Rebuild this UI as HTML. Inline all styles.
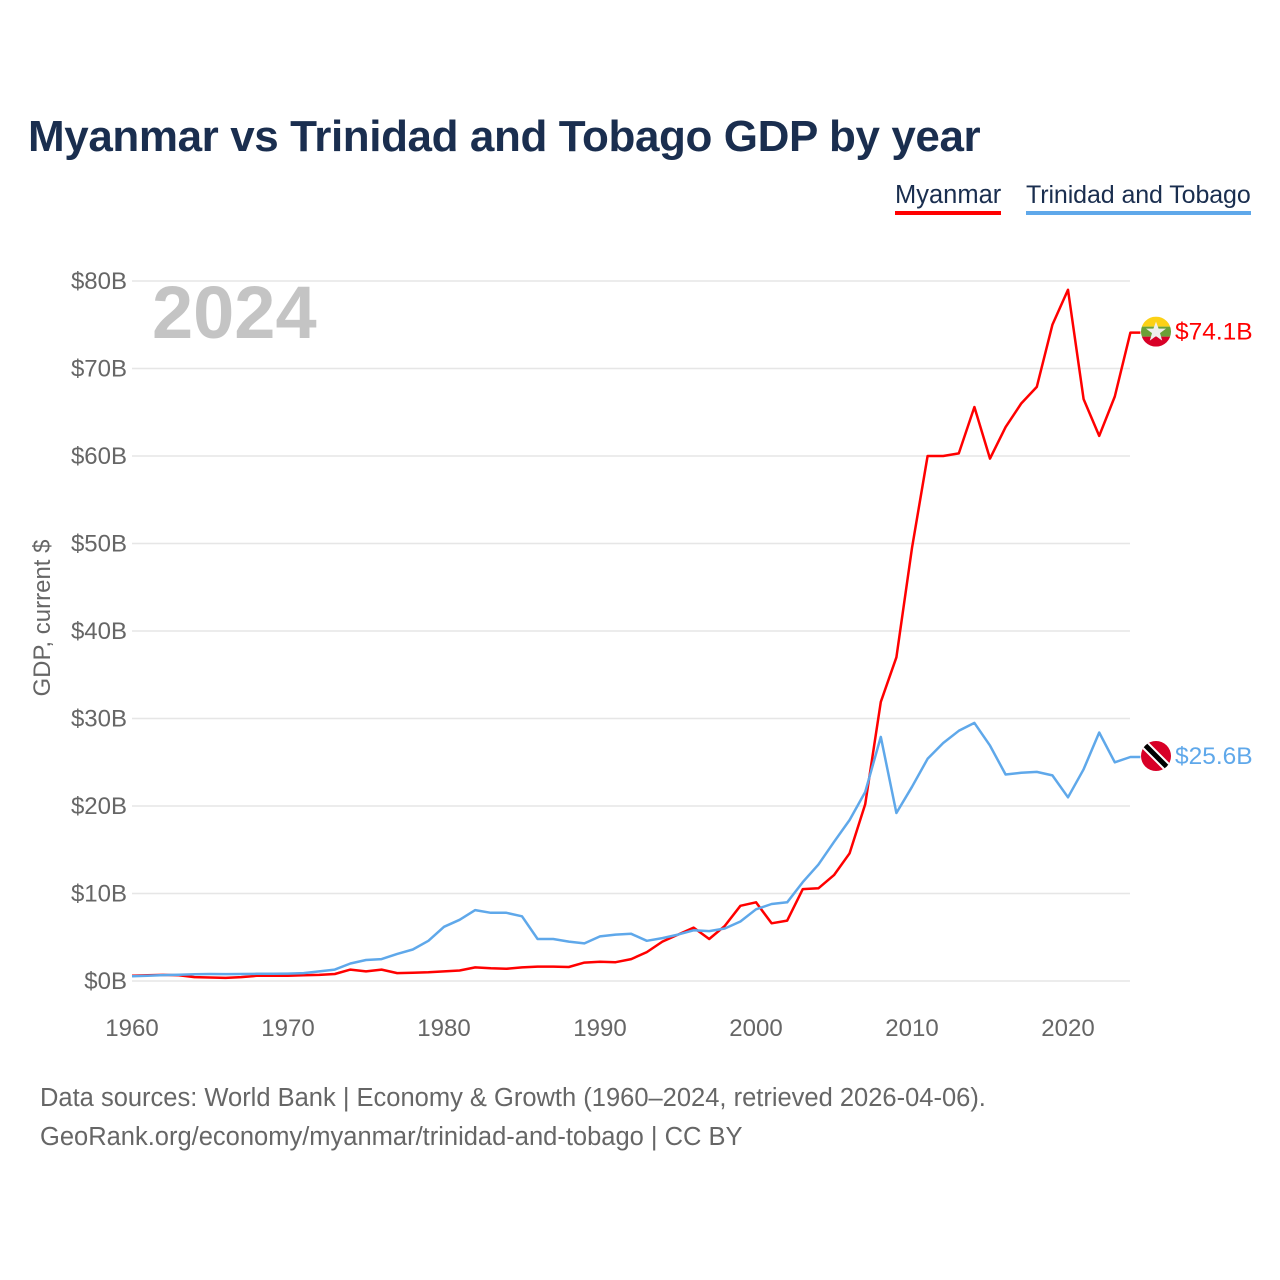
<!DOCTYPE html>
<html><head><meta charset="utf-8"><style>
body{margin:0;background:#fff;font-family:"Liberation Sans",sans-serif;}
#wrap{position:relative;width:1280px;height:1280px;overflow:hidden;}
h1{position:absolute;left:28px;top:112px;margin:0;font-size:44px;font-weight:bold;color:#1a2e4f;letter-spacing:-0.4px}
.leg{position:absolute;top:181px;font-size:25.5px;color:#1a2e4f;padding-bottom:1px}
.src{position:absolute;left:40px;font-size:25.5px;color:#666}
</style></head><body>
<div id="wrap">
<h1>Myanmar vs Trinidad and Tobago GDP by year</h1>
<div class="leg" style="left:895px;border-bottom:4px solid #ff0000">Myanmar</div>
<div class="leg" style="left:1026px;border-bottom:4px solid #5fa8ea;font-size:25px;letter-spacing:-0.1px">Trinidad and Tobago</div>
<svg id="chart" width="1280" height="1280" style="position:absolute;left:0;top:0"></svg>
<div class="src" style="top:1084px">Data sources: World Bank | Economy &amp; Growth (1960–2024, retrieved 2026-04-06).</div>
<div class="src" style="top:1123px">GeoRank.org/economy/myanmar/trinidad-and-tobago | CC BY</div>
</div>
<script>
const years=[];for(let y=1960;y<=2024;y++)years.push(y);
const myanmar=[0.6,0.65,0.7,0.65,0.45,0.4,0.35,0.45,0.6,0.6,0.6,0.65,0.7,0.8,1.3,1.1,1.3,0.9,0.95,1.0,1.1,1.2,1.55,1.45,1.4,1.55,1.65,1.65,1.6,2.1,2.2,2.15,2.5,3.3,4.5,5.3,6.1,4.8,6.3,8.6,9.0,6.6,6.9,10.5,10.6,12.1,14.6,20.2,31.9,37.0,49.5,60.0,60.0,60.3,65.6,59.7,63.3,66.0,67.9,75.0,79.0,66.5,62.3,66.8,74.1];
const trinidad=[0.54,0.6,0.67,0.72,0.78,0.8,0.79,0.8,0.82,0.82,0.85,0.9,1.1,1.3,2.0,2.4,2.5,3.1,3.6,4.6,6.2,7.0,8.1,7.8,7.8,7.4,4.8,4.8,4.5,4.3,5.1,5.3,5.4,4.6,4.9,5.3,5.8,5.7,6.0,6.8,8.2,8.8,9.0,11.3,13.3,15.9,18.4,21.6,27.9,19.2,22.2,25.4,27.2,28.6,29.5,26.9,23.6,23.8,23.9,23.5,21.0,24.2,28.4,25.0,25.6];
const yTicks=[0,10,20,30,40,50,60,70,80];
const xTicks=[1960,1970,1980,1990,2000,2010,2020];
const X=y=>132+(y-1960)*15.6;
const Y=v=>981-v*8.75;
const svg=document.getElementById('chart');const NS='http://www.w3.org/2000/svg';
function mk(t,a,txt){const e=document.createElementNS(NS,t);for(const k in a)e.setAttribute(k,a[k]);if(txt!=null)e.textContent=txt;svg.appendChild(e);return e;}
yTicks.forEach(v=>{
 const g=mk('line',{x1:132,x2:1130,y1:Y(v),y2:Y(v),stroke:'#e6e6e6','stroke-width':1.5});
 
 
 const t=mk('text',{x:127,y:Y(v)+8,'text-anchor':'end','font-size':24,fill:'#666','font-family':'Liberation Sans'},'$'+v+'B');
 
 
});
xTicks.forEach(y=>{
 const t=mk('text',{x:X(y),y:1036,'text-anchor':'middle','font-size':24,fill:'#666','font-family':'Liberation Sans'},String(y));
 
 
});
const yt=mk('text',{x:0,y:0,transform:'translate(50,618) rotate(-90)','text-anchor':'middle','font-size':24,fill:'#666','font-family':'Liberation Sans'},'GDP, current $');


const yr=mk('text',{x:152,y:338,'font-size':74,'font-weight':'bold',fill:'#c4c4c4','font-family':'Liberation Sans'},'2024');


function series(vals,col,name,label){
 let d=vals.map((v,i)=>(i?'L':'M')+X(years[i]).toFixed(1)+','+Y(v).toFixed(1)).join(' ');
 const last=vals[vals.length-1];
 d+=' L'+(X(2024)+10)+','+Y(last).toFixed(1);
 const p=mk('path',{d:d,fill:'none',stroke:col,'stroke-width':2.5,'stroke-linejoin':'round'});
 
 
 const t=mk('text',{x:1175,y:Y(last)+7,'font-size':24.5,fill:col,'font-family':'Liberation Sans'},label);
 
 
 return Y(last);
}
const ym=series(myanmar,'#ff0000','myanmar','$74.1B');
const yt2=series(trinidad,'#5fa8ea','trinidad','$25.6B');
const fm=document.createElementNS(NS,'g');fm.setAttribute('transform','translate(1156,'+(ym-1)+')');


fm.innerHTML='<defs><clipPath id="c1"><circle r="15"/></clipPath></defs><g clip-path="url(#c1)"><rect x="-15" y="-15" width="30" height="10" fill="#fcd116"/><rect x="-15" y="-5" width="30" height="10" fill="#6aa136"/><rect x="-15" y="5" width="30" height="10" fill="#d80027"/></g><polygon points="0,-10 2.6,-3 10,-3 4,1.5 6.2,9 0,4.5 -6.2,9 -4,1.5 -10,-3 -2.6,-3" fill="#eee"/>';
svg.appendChild(fm);
const ft=document.createElementNS(NS,'g');ft.setAttribute('transform','translate(1156,'+(yt2-1)+')');


ft.innerHTML='<defs><clipPath id="c2"><circle r="15"/></clipPath></defs><g clip-path="url(#c2)"><rect x="-15" y="-15" width="30" height="30" fill="#d80027"/><line x1="-15" y1="-15" x2="15" y2="15" stroke="#fff" stroke-width="9"/><line x1="-15" y1="-15" x2="15" y2="15" stroke="#000" stroke-width="5"/></g>';
svg.appendChild(ft);
</script>
</body></html>
